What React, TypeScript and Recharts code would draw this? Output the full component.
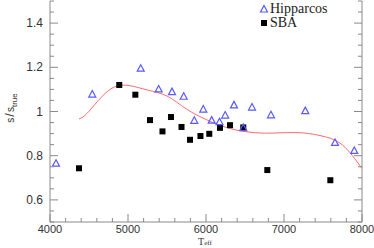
import React from 'react';
import { ComposedChart, XAxis, YAxis, Scatter, Line } from 'recharts';

// Hipparcos comparison
const hipTeff = [4077, 4542, 5163, 5393, 5564, 5714, 5850, 5965, 6073, 6173, 6246, 6359, 6478, 6590, 6833, 7273, 7654, 7901];
const hipRatio = [0.766, 1.079, 1.196, 1.102, 1.090, 1.069, 0.960, 1.011, 0.961, 0.954, 0.984, 1.030, 0.927, 1.020, 0.985, 1.004, 0.860, 0.824];

// SBA comparison
const sbaTeff = [4372, 4888, 5094, 5282, 5442, 5551, 5686, 5795, 5929, 6042, 6179, 6308, 6478, 6786, 7594];
const sbaRatio = [0.743, 1.120, 1.076, 0.961, 0.910, 0.975, 0.930, 0.872, 0.889, 0.899, 0.926, 0.938, 0.928, 0.735, 0.689];

// red fit curve
const fitTeff = [4372, 4500, 4750, 5000, 5250, 5500, 5750, 6000, 6250, 6500, 6750, 7000, 7250, 7500, 7750, 8000];
const fitRatio = [0.966, 1.001, 1.095, 1.118, 1.097, 1.070, 1.011, 0.964, 0.929, 0.909, 0.902, 0.904, 0.903, 0.888, 0.848, 0.742];

const xLabels = [4000, 5000, 6000, 7000, 8000];
const yLabels = [0.6, 0.8, 1, 1.2, 1.4];

const xTicks = Array.from({ length: 21 }, (_, i) => 4000 + i * 200);
const yTicks = Array.from({ length: 21 }, (_, i) => Math.round((0.5 + i * 0.05) * 100) / 100);

const hip = hipTeff.map((t, i) => ({ t, s: hipRatio[i] }));
const sba = sbaTeff.map((t, i) => ({ t, s: sbaRatio[i] }));
const fit = fitTeff.map((t, i) => ({ t, s: fitRatio[i] }));

const frame = '#8a8a8a';
const blue = '#5a5aff';
const red = '#ff6a6a';
const numFont = '"Liberation Sans", Arial, sans-serif';
const serif = '"Liberation Serif", "Times New Roman", serif';

const isMajorX = (v: number) => xLabels.includes(v);
const isMajorY = (v: number) => yLabels.some(l => Math.abs(l - v) < 1e-6);

const BottomTick = ({ x, y, payload }: any) => {
  const v = payload.value;
  const len = isMajorX(v) ? 8 : 4;
  return (
    <g>
      <line x1={x} x2={x} y1={y} y2={y - len} stroke={frame} />
      {isMajorX(v) && (
        <text x={x} y={y + 11} textAnchor="middle" fontSize={11} fontFamily={numFont} fill="#333">
          {v}
        </text>
      )}
    </g>
  );
};

const TopTick = ({ x, y, payload }: any) => {
  const len = isMajorX(payload.value) ? 8 : 4;
  return <line x1={x} x2={x} y1={y} y2={y + len} stroke={frame} />;
};

const LeftTick = ({ x, y, payload }: any) => {
  const v = payload.value;
  const major = isMajorY(v);
  return (
    <g>
      <line x1={x} x2={x + (major ? 8 : 4)} y1={y} y2={y} stroke={frame} />
      {major && (
        <text x={x - 7} y={y + 4} textAnchor="end" fontSize={12} fontFamily={numFont} fill="#333">
          {String(v)}
        </text>
      )}
    </g>
  );
};

const RightTick = ({ x, y, payload }: any) => {
  const len = isMajorY(payload.value) ? 8 : 4;
  return <line x1={x} x2={x - len} y1={y} y2={y} stroke={frame} />;
};

const Triangle = ({ cx, cy }: any) => (
  <polygon
    points={`${cx - 3.5},${cy + 3} ${cx + 3.5},${cy + 3} ${cx},${cy - 3.5}`}
    fill="none"
    stroke={blue}
    strokeWidth={1.2}
  />
);

const Square = ({ cx, cy }: any) => <rect x={cx - 3} y={cy - 3} width={6} height={6} fill="#000" />;

const YTitle = () => (
  <text
    transform="translate(14,108) rotate(-90)"
    textAnchor="middle"
    fontFamily={numFont}
    fontSize={10}
    fill="#333"
  >
    <tspan>s</tspan>
    <tspan dx={1} fontSize={13}>/</tspan>
    <tspan dx={1}>s</tspan>
    <tspan dy={3} fontSize={8}>true</tspan>
  </text>
);

const XTitle = () => (
  <text x={205} y={245} textAnchor="middle" fontFamily={serif} fontSize={10} fill="#333">
    <tspan>T</tspan>
    <tspan fontSize={7}>eff</tspan>
  </text>
);

const Legend = () => (
  <div style={{ position: 'absolute', left: 259, top: 2, fontFamily: serif, fontSize: 14, color: '#222', lineHeight: '14px' }}>
    <div style={{ display: 'flex', alignItems: 'center' }}>
      <svg width={10} height={10}>
        <polygon points="1.5,8 8.5,8 5,1.5" fill="none" stroke={blue} strokeWidth={1.2} />
      </svg>
      <span style={{ marginLeft: 1 }}>Hipparcos</span>
    </div>
    <div style={{ display: 'flex', alignItems: 'center' }}>
      <svg width={10} height={10}>
        <rect x={2} y={2} width={6} height={6} fill="#000" />
      </svg>
      <span style={{ marginLeft: 1 }}>SBA</span>
    </div>
  </div>
);

export default function App() {
  return (
    <div style={{ position: 'absolute', left: 0, top: 0, width: 374, height: 248, background: '#fff' }}>
      <ComposedChart width={374} height={248} margin={{ top: 1, right: 0, bottom: 0, left: 0 }}>
        <XAxis
          xAxisId="b"
          dataKey="t"
          type="number"
          domain={[4000, 8000]}
          ticks={xTicks}
          interval={0}
          height={26}
          tickSize={0}
          tickMargin={0}
          tickLine={false}
          axisLine={{ stroke: frame }}
          tick={<BottomTick />}
          allowDataOverflow
          label={<XTitle />}
        />
        <XAxis
          xAxisId="t"
          orientation="top"
          type="number"
          domain={[4000, 8000]}
          ticks={xTicks}
          interval={0}
          height={0}
          tickSize={0}
          tickMargin={0}
          tickLine={false}
          axisLine={{ stroke: frame }}
          tick={<TopTick />}
          allowDataOverflow
        />
        <YAxis
          yAxisId="l"
          dataKey="s"
          type="number"
          domain={[0.5, 1.5]}
          ticks={yTicks}
          interval={0}
          width={50}
          tickSize={0}
          tickMargin={0}
          tickLine={false}
          axisLine={{ stroke: frame }}
          tick={<LeftTick />}
          allowDataOverflow
          label={<YTitle />}
        />
        <YAxis
          yAxisId="r"
          orientation="right"
          type="number"
          domain={[0.5, 1.5]}
          ticks={yTicks}
          interval={0}
          width={12}
          tickSize={0}
          tickMargin={0}
          tickLine={false}
          axisLine={{ stroke: frame }}
          tick={<RightTick />}
          allowDataOverflow
        />
        <Line
          xAxisId="b"
          yAxisId="l"
          data={fit}
          dataKey="s"
          type="natural"
          stroke={red}
          strokeWidth={1}
          dot={false}
          activeDot={false}
          isAnimationActive={false}
        />
        <Scatter xAxisId="b" yAxisId="l" data={sba} dataKey="s" shape={<Square />} isAnimationActive={false} />
        <Scatter xAxisId="b" yAxisId="l" data={hip} dataKey="s" shape={<Triangle />} isAnimationActive={false} />
      </ComposedChart>
      <Legend />
    </div>
  );
}
